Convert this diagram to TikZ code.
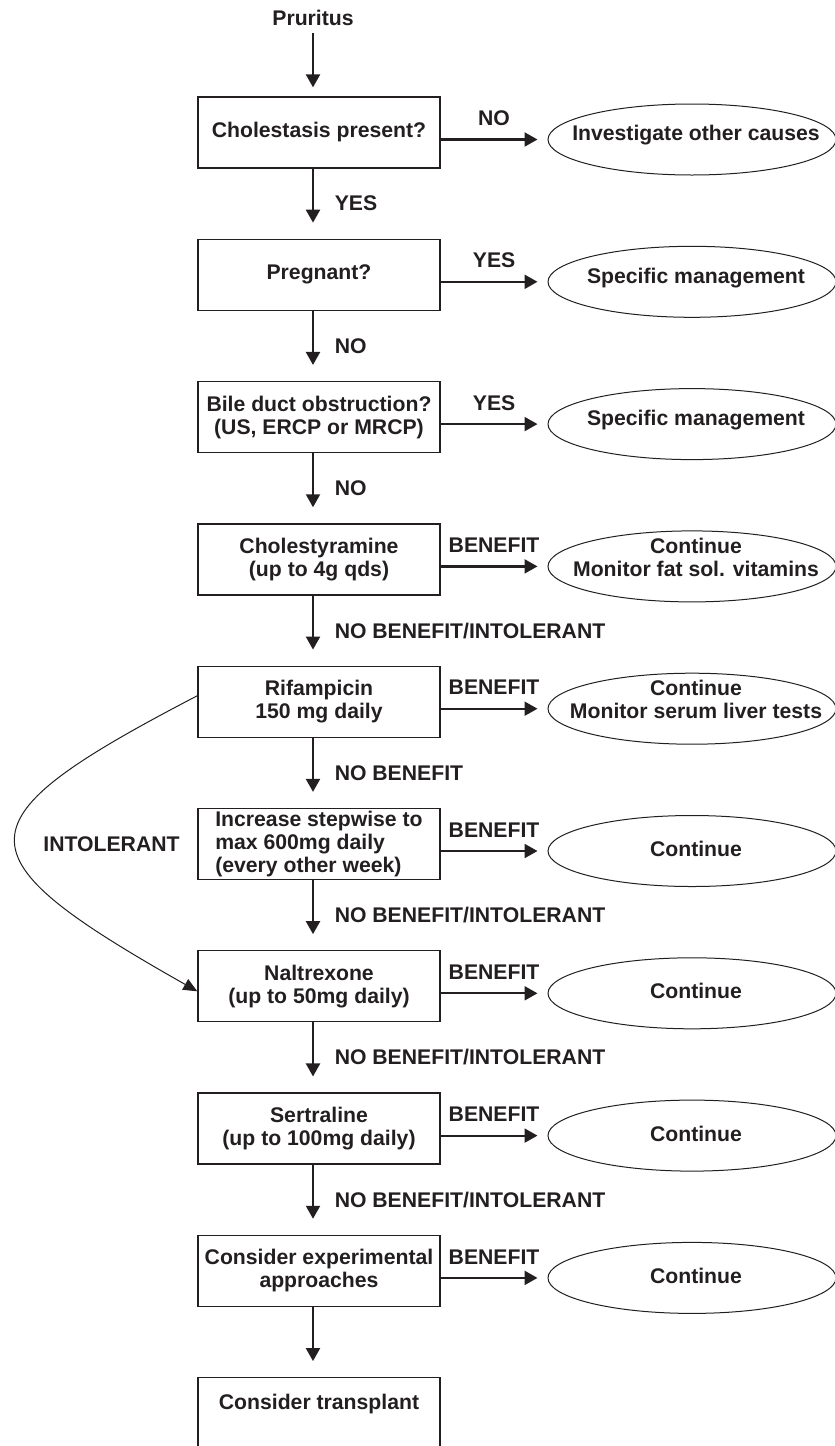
\documentclass[tikz,border=0pt]{standalone}
\usepackage{fontspec}
\setmainfont{Liberation Sans}
\usetikzlibrary{shapes.geometric,arrows.meta,calc}
\definecolor{ink}{RGB}{35,31,32}

\begin{document}
\begin{tikzpicture}[node distance=71.15pt, x=1pt, y=1pt, color=ink, font=\fontsize{10.6}{11.5}\selectfont\bfseries]
\tikzstyle{block} = [rectangle, draw, line width=0.65pt, minimum width=121pt, minimum height=35.5pt, inner sep=1pt, align=center]
\tikzstyle{oval} = [ellipse, draw, line width=0.5pt, minimum width=144pt, minimum height=35.5pt, inner sep=0pt]
\tikzstyle{otext} = [align=center]
\tikzstyle{arr} = [-{Triangle[width=7pt,length=6.5pt]}, line width=1.1pt]
\tikzstyle{curvearr} = [-{Triangle[width=6pt,length=7pt]}, line width=0.5pt]
\useasboundingbox (0,0) rectangle (417.5,-723);

% main column
\node (start) at (156.5,-9) {Pruritus};
\node[block] (b1) at (159.5,-66.25) {Cholestasis present?};
\node[block, below of=b1] (b2) {Pregnant?};
\node[block, below of=b2] (b3) {Bile duct obstruction?\\(US, ERCP or MRCP)};
\node[block, below of=b3] (b4) {Cholestyramine\\(up to 4g qds)};
\node[block, below of=b4] (b5) {Rifampicin\\150 mg daily};
\node[block, below of=b5, align=left] (b6) {Increase stepwise to\\max 600mg daily\\(every other week)};
\node[block, below of=b6] (b7) {Naltrexone\\(up to 50mg daily)};
\node[block, below of=b7] (b8) {Sertraline\\(up to 100mg daily)};
\node[block, below of=b8] (b9) {Consider experimental\\approaches};
\node[block, below of=b9] (b10) {Consider transplant\\ \mbox{}};

% outcomes
\node[oval, node distance=186.5pt, right of=b1, yshift=-3.5pt] (e1) {};
\node[oval, node distance=186.5pt, right of=b2, yshift=-3.5pt] (e2) {};
\node[oval, node distance=186.5pt, right of=b3, yshift=-3.5pt] (e3) {};
\node[oval, node distance=186.5pt, right of=b4, yshift=-3.5pt] (e4) {};
\node[oval, node distance=186.5pt, right of=b5, yshift=-3.5pt] (e5) {};
\node[oval, node distance=186.5pt, right of=b6, yshift=-3.5pt] (e6) {};
\node[oval, node distance=186.5pt, right of=b7, yshift=-3.5pt] (e7) {};
\node[oval, node distance=186.5pt, right of=b8, yshift=-3.5pt] (e8) {};
\node[oval, node distance=186.5pt, right of=b9, yshift=-3.5pt] (e9) {};
\node[otext] (t1) at ([xshift=2pt,yshift=2pt]e1) {Investigate other causes};
\node[otext] (t2) at ([xshift=2pt,yshift=2pt]e2) {Specific management};
\node[otext] (t3) at ([xshift=2pt,yshift=2pt]e3) {Specific management};
\node[otext] (t4) at ([xshift=2pt,yshift=4.5pt]e4) {Continue\\Monitor fat sol. vitamins};
\node[otext] (t5) at ([xshift=2pt,yshift=4.5pt]e5) {Continue\\Monitor serum liver tests};
\node[otext] (t6) at ([xshift=2pt,yshift=1pt]e6) {Continue};
\node[otext] (t7) at ([xshift=2pt,yshift=1pt]e7) {Continue};
\node[otext] (t8) at ([xshift=2pt,yshift=1pt]e8) {Continue};
\node[otext] (t9) at ([xshift=2pt,yshift=1pt]e9) {Continue};

\node[node distance=103.75pt, left of=b6] (intol) {INTOLERANT};

% down the column
\draw[arr, shorten >=4.5pt] (start.south) -- ([xshift=-3pt]b1.north);
\draw[arr, shorten >=8pt] ([xshift=-3pt]b1.south) -- ([xshift=-3pt]b2.north) node[midway, right=7pt] {YES};
\draw[arr, shorten >=8pt] ([xshift=-3pt]b2.south) -- ([xshift=-3pt]b3.north) node[midway, right=7pt] {NO};
\draw[arr, shorten >=8pt] ([xshift=-3pt]b3.south) -- ([xshift=-3pt]b4.north) node[midway, right=7pt] {NO};
\draw[arr, shorten >=8pt] ([xshift=-3pt]b4.south) -- ([xshift=-3pt]b5.north) node[midway, right=7pt] {NO BENEFIT/INTOLERANT};
\draw[arr, shorten >=8pt] ([xshift=-3pt]b5.south) -- ([xshift=-3pt]b6.north) node[midway, right=7pt] {NO BENEFIT};
\draw[arr, shorten >=8pt] ([xshift=-3pt]b6.south) -- ([xshift=-3pt]b7.north) node[midway, right=7pt] {NO BENEFIT/INTOLERANT};
\draw[arr, shorten >=8pt] ([xshift=-3pt]b7.south) -- ([xshift=-3pt]b8.north) node[midway, right=7pt] {NO BENEFIT/INTOLERANT};
\draw[arr, shorten >=8pt] ([xshift=-3pt]b8.south) -- ([xshift=-3pt]b9.north) node[midway, right=7pt] {NO BENEFIT/INTOLERANT};
\draw[arr, shorten >=8pt] ([xshift=-3pt]b9.south) -- ([xshift=-3pt]b10.north);

% across to the outcomes
\draw[arr, shorten >=5pt] ([yshift=-3.5pt]b1.east) -- (e1.west) node[midway, above=3pt] {NO};
\draw[arr, shorten >=5pt] ([yshift=-3.5pt]b2.east) -- (e2.west) node[midway, above=3pt] {YES};
\draw[arr, shorten >=5pt] ([yshift=-3.5pt]b3.east) -- (e3.west) node[midway, above=3pt] {YES};
\draw[arr, shorten >=5pt] ([yshift=-3.5pt]b4.east) -- (e4.west) node[midway, above=3pt] {BENEFIT};
\draw[arr, shorten >=5pt] ([yshift=-3.5pt]b5.east) -- (e5.west) node[midway, above=3pt] {BENEFIT};
\draw[arr, shorten >=5pt] ([yshift=-3.5pt]b6.east) -- (e6.west) node[midway, above=3pt] {BENEFIT};
\draw[arr, shorten >=5pt] ([yshift=-3.5pt]b7.east) -- (e7.west) node[midway, above=3pt] {BENEFIT};
\draw[arr, shorten >=5pt] ([yshift=-3.5pt]b8.east) -- (e8.west) node[midway, above=3pt] {BENEFIT};
\draw[arr, shorten >=5pt] ([yshift=-3.5pt]b9.east) -- (e9.west) node[midway, above=3pt] {BENEFIT};

% rifampicin intolerance
\draw[curvearr] ([yshift=3pt]b5.west) .. controls ($(b5.west)+(-121,-60)$) and ($(b7.west)+(-121,66)$) .. ([yshift=-2.5pt]b7.west);
\end{tikzpicture}
\end{document}
